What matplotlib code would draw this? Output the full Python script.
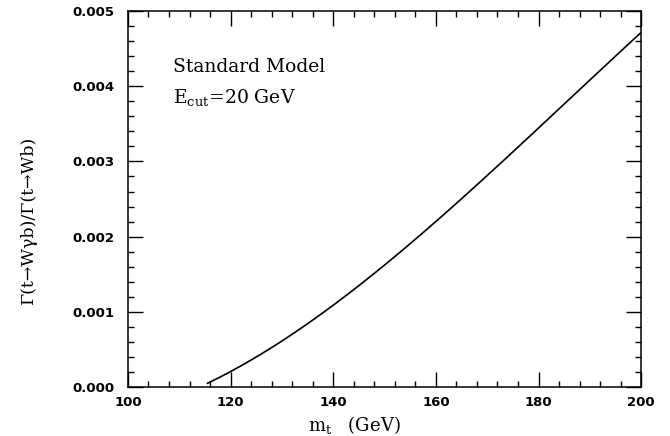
import numpy as np
import matplotlib
matplotlib.use("Agg")
import matplotlib.pyplot as plt
from matplotlib.ticker import MultipleLocator, FormatStrFormatter

plt.rcParams["mathtext.fontset"] = "dejavuserif"

# values
m_top = [115.5, 120.0, 133.5, 140.0, 153.0, 160.0, 169.0, 176.4, 180.0, 188.1, 200.0]
ratio = [0.00006, 0.00020, 0.00076, 0.00110, 0.00179, 0.00221, 0.00275, 0.00322, 0.00344, 0.00395, 0.00472]

# smooth the readings with a low-order fit so the curve looks drawn, not kinked
coef = np.polyfit(m_top, ratio, 3)
xs = np.linspace(m_top[0], m_top[-1], 200)
ys = np.polyval(coef, xs)

fig = plt.figure(figsize=(6.7, 4.36), dpi=100)
ax = fig.add_axes([0.191, 0.112, 0.766, 0.863])

ax.plot(xs, ys, color="black", lw=1.2)

ax.set_xlim(100, 200)
ax.set_ylim(0, 0.005)
ax.xaxis.set_major_locator(MultipleLocator(20))
ax.xaxis.set_minor_locator(MultipleLocator(4))
ax.yaxis.set_major_locator(MultipleLocator(0.001))
ax.yaxis.set_minor_locator(MultipleLocator(0.0002))
ax.yaxis.set_major_formatter(FormatStrFormatter("%.3f"))

ax.tick_params(which="both", direction="in", top=True, right=True, width=1)
ax.tick_params(which="major", length=11)
ax.tick_params(which="minor", length=4.3)
for lab in ax.get_xticklabels() + ax.get_yticklabels():
    lab.set_fontweight("bold")
    lab.set_fontsize(9.5)
ax.tick_params(axis="x", pad=6)
ax.tick_params(axis="y", pad=10)
for sp in ax.spines.values():
    sp.set_linewidth(1.1)

ax.set_xlabel(r"m$_{\rm t}$   (GeV)", fontsize=13, family="DejaVu Serif")
ax.xaxis.set_label_coords(0.442, -0.072)
ax.set_ylabel("Γ(t→Wγb)/Γ(t→Wb)", fontsize=12.5, family="DejaVu Serif")
ax.yaxis.set_label_coords(-0.177, 0.444)

ax.text(108.8, 0.00419, "Standard Model", fontsize=13.5, family="DejaVu Serif", va="baseline")
ax.text(108.8, 0.00378, r"E$_{\rm cut}$=20 GeV", fontsize=13.5, family="DejaVu Serif", va="baseline")

fig.savefig("out.png", dpi=100)
